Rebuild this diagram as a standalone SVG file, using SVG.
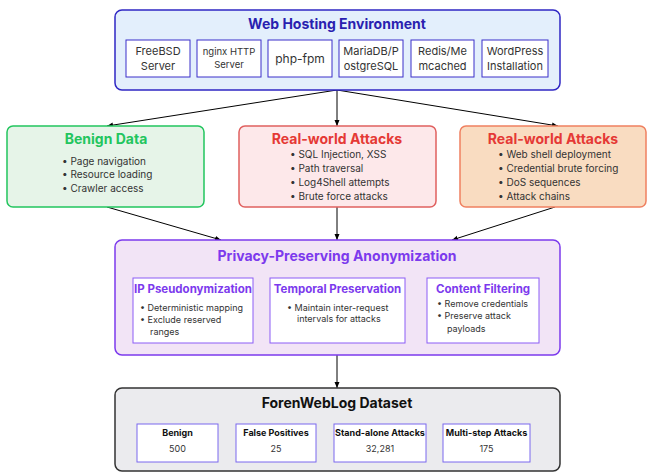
<svg xmlns="http://www.w3.org/2000/svg" width="650" height="473" viewBox="0 0 650 473">
<defs>
<marker id="ah" viewBox="0 0 6 6" refX="6" refY="3" markerWidth="6" markerHeight="6" orient="auto" markerUnits="userSpaceOnUse">
<path d="M0,0.5 L6,3 L0,5.5 z" fill="#000"/>
</marker>
</defs>
<style>
text{font-family:Inter,"Noto Sans","Liberation Sans",sans-serif}
.t{font-weight:700;font-size:14px;text-anchor:middle}
.sub{font-size:11px;fill:#333;text-anchor:middle}
.b{font-size:10px;fill:#333}
.pt{font-weight:700;font-size:11.5px;fill:#7c3aed;text-anchor:middle}
.pb{font-size:9px;fill:#333}
.dl{font-weight:700;font-size:9px;fill:#111;text-anchor:middle}
.dv{font-size:9px;fill:#333;text-anchor:middle}
.c{stroke:#000;stroke-width:1;fill:none;marker-end:url(#ah)}
.ib{fill:#fff;stroke:#3b2fc9;stroke-width:1}
.pib{fill:#fff;stroke:#8b5cf6;stroke-width:1}
.dib{fill:#fff;stroke:#7b68ee;stroke-width:1}
</style>
<g id="connectors">
<line class="c" x1="337" y1="90" x2="107" y2="126"/>
<line class="c" x1="337" y1="90" x2="337" y2="126"/>
<line class="c" x1="337" y1="90" x2="558" y2="126"/>
<line class="c" x1="107" y1="207" x2="221" y2="240"/>
<line class="c" x1="337" y1="207" x2="337" y2="240"/>
<line class="c" x1="555" y1="207" x2="452" y2="240"/>
<line class="c" x1="337" y1="355" x2="337" y2="388"/>
</g>
<g id="web-hosting">
<rect x="115" y="10" width="445" height="80" rx="7" fill="#e3effc" stroke="#2f27c4" stroke-width="1.5"/>
<text class="t" x="337" y="29" fill="#2a1fb0">Web Hosting Environment</text>
<rect class="ib" x="126" y="40" width="64" height="37"/>
<text class="sub" x="158" y="55">FreeBSD</text><text class="sub" x="158" y="70">Server</text>
<rect class="ib" x="197" y="40" width="64" height="37"/>
<text class="sub" x="229" y="55" style="font-size:9.5px">nginx HTTP</text><text class="sub" x="229" y="68" style="font-size:9.5px">Server</text>
<rect class="ib" x="268" y="40" width="64" height="37"/>
<text class="sub" x="300" y="63" style="font-size:12px">php-fpm</text>
<rect class="ib" x="339" y="40" width="64" height="37"/>
<text class="sub" x="371" y="55">MariaDB/P</text><text class="sub" x="371" y="70">ostgreSQL</text>
<rect class="ib" x="411" y="40" width="63" height="37"/>
<text class="sub" x="442.5" y="55">Redis/Me</text><text class="sub" x="442.5" y="70">mcached</text>
<rect class="ib" x="482" y="40" width="66" height="37"/>
<text class="sub" x="515" y="55">WordPress</text><text class="sub" x="515" y="70">Installation</text>
</g>
<g id="benign-data">
<rect x="7" y="126" width="197" height="81" rx="6" fill="#e6f4e8" stroke="#22c55e" stroke-width="1.5"/>
<text class="t" x="106" y="144" fill="#22c55e">Benign Data</text>
<text class="b" x="62" y="165">•  Page navigation</text>
<text class="b" x="62" y="178">•  Resource loading</text>
<text class="b" x="62" y="192">•  Crawler access</text>
</g>
<g id="attacks-1">
<rect x="239" y="126" width="197" height="81" rx="6" fill="#fde8ea" stroke="#e0605f" stroke-width="1.5"/>
<text class="t" x="337" y="144" fill="#e53935">Real-world Attacks</text>
<text class="b" x="290" y="158">•  SQL Injection, XSS</text>
<text class="b" x="290" y="172">•  Path traversal</text>
<text class="b" x="290" y="186">•  Log4Shell attempts</text>
<text class="b" x="290" y="200">•  Brute force attacks</text>
</g>
<g id="attacks-2">
<rect x="460" y="126" width="186" height="81" rx="6" fill="#f9dcc1" stroke="#ef8060" stroke-width="1.5"/>
<text class="t" x="553" y="144" fill="#e53935">Real-world Attacks</text>
<text class="b" x="498" y="158">•  Web shell deployment</text>
<text class="b" x="498" y="172">•  Credential brute forcing</text>
<text class="b" x="498" y="186">•  DoS sequences</text>
<text class="b" x="498" y="200">•  Attack chains</text>
</g>
<g id="anonymization">
<rect x="115" y="240" width="445" height="115" rx="7" fill="#f2e4f6" stroke="#7c3aed" stroke-width="1.5"/>
<text class="t" x="337" y="261" fill="#7c3aed">Privacy-Preserving Anonymization</text>
<rect class="pib" x="133" y="278" width="120" height="65"/>
<text class="pt" x="193" y="293">IP Pseudonymization</text>
<text class="pb" x="140" y="311">•  Deterministic mapping</text>
<text class="pb" x="140" y="323">•  Exclude reserved</text>
<text class="pb" x="150" y="335">ranges</text>
<rect class="pib" x="270" y="278" width="135" height="65"/>
<text class="pt" x="337.5" y="293">Temporal Preservation</text>
<text class="pb" x="287" y="311">•  Maintain inter-request</text>
<text class="pb" x="297" y="322">intervals for attacks</text>
<rect class="pib" x="427" y="278" width="112" height="65"/>
<text class="pt" x="483" y="293">Content Filtering</text>
<text class="pb" x="437" y="307">•  Remove credentials</text>
<text class="pb" x="437" y="319">•  Preserve attack</text>
<text class="pb" x="447" y="332">payloads</text>
</g>
<g id="dataset">
<rect x="115" y="388" width="445" height="83" rx="7" fill="#ebebee" stroke="#333" stroke-width="1.5"/>
<text class="t" x="337" y="408" fill="#111">ForenWebLog Dataset</text>
<rect class="dib" x="137" y="424" width="81" height="38"/>
<text class="dl" x="177.5" y="436">Benign</text><text class="dv" x="177.5" y="452">500</text>
<rect class="dib" x="236" y="424" width="80" height="38"/>
<text class="dl" x="276" y="436">False Positives</text><text class="dv" x="276" y="452">25</text>
<rect class="dib" x="334" y="424" width="92" height="38"/>
<text class="dl" x="380" y="436">Stand-alone Attacks</text><text class="dv" x="380" y="452">32,281</text>
<rect class="dib" x="443" y="424" width="87" height="38"/>
<text class="dl" x="486.5" y="436">Multi-step Attacks</text><text class="dv" x="486.5" y="452">175</text>
</g>
</svg>
